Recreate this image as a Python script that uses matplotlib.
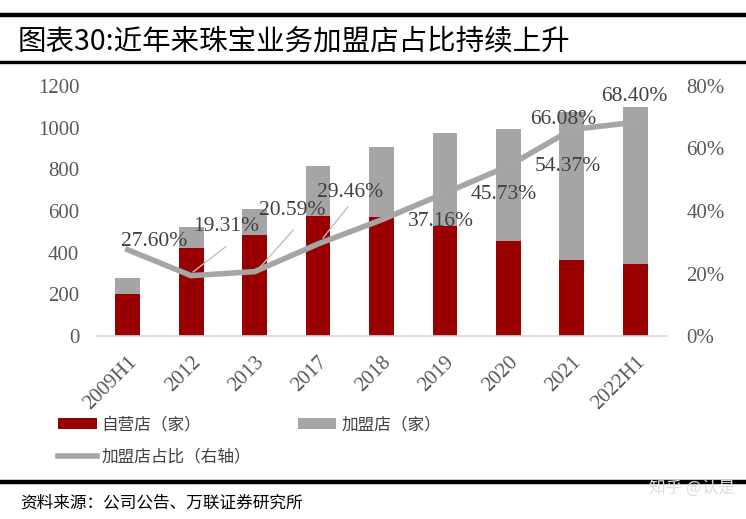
import matplotlib
matplotlib.use("Agg")
import matplotlib.pyplot as plt
from matplotlib.lines import Line2D
from matplotlib.patches import Patch

plt.rcParams['font.family'] = ['Noto Sans CJK SC', 'DejaVu Sans']

categories = ["2009H1", "2012", "2013", "2017", "2018", "2019", "2020", "2021", "2022H1"]
self_stores = [200, 424, 483, 577, 571, 528, 454, 365, 347]
franchise_stores = [77, 101, 125, 241, 338, 445, 541, 710, 752]
franchise_pct = [27.60, 19.31, 20.59, 29.46, 37.16, 45.73, 54.37, 66.08, 68.40]
pct_labels = ["27.60%", "19.31%", "20.59%", "29.46%", "37.16%", "45.73%", "54.37%", "66.08%", "68.40%"]
left_ticks = [0, 200, 400, 600, 800, 1000, 1200]
right_ticks = [0, 20, 40, 60, 80]

RED = "#990000"
GRAY = "#A5A5A5"
TXT = "#595959"
SERIF = ["Liberation Serif", "DejaVu Serif"]

fig = plt.figure(figsize=(7.46, 5.19), dpi=100)
ax = fig.add_axes([0.1287, 0.3526, 0.894 - 0.1287, 0.8343 - 0.3526])
ax2 = ax.twinx()

x = list(range(len(categories)))
ax.bar(x, self_stores, width=0.39, color=RED, zorder=2)
ax.bar(x, franchise_stores, width=0.39, bottom=self_stores, color=GRAY, zorder=2)
ax.set_ylim(0, 1200)
ax.set_xlim(-0.5, len(categories) - 0.5)
ax.set_yticks(left_ticks)
ax.set_yticklabels([str(v) for v in left_ticks], family=SERIF, fontsize=15, color=TXT)
ax.set_xticks(x)
ax.set_xticklabels(categories, family=SERIF, fontsize=15, color=TXT,
                   rotation=45, ha='right', va='top', rotation_mode='anchor')
ax.tick_params(axis='both', length=0, pad=12)
ax.tick_params(axis='x', pad=12)
for s in ["top", "left", "right"]:
    ax.spines[s].set_visible(False)
ax.spines["bottom"].set_color("#D9D9D9")
ax.spines["bottom"].set_linewidth(1.2)

ax2.plot(x, franchise_pct, color="#A6A6A6", lw=4, zorder=5, solid_joinstyle='miter')
ax2.set_ylim(0, 80)
ax2.set_yticks(right_ticks)
ax2.set_yticklabels([f"{v}%" for v in right_ticks], family=SERIF, fontsize=15, color=TXT)
ax2.tick_params(axis='y', length=0, pad=14)
for s in ["top", "left", "right", "bottom"]:
    ax2.spines[s].set_visible(False)

label_pos = [(0.41, 30.1), (1.55, 34.9), (2.60, 40.3), (3.50, 45.8), (4.94, 36.5),
             (5.93, 45.4), (6.93, 54.1), (6.87, 69.4), (7.98, 76.5)]
leaders = {1: ((1.03, 20.5), (1.54, 28.5)), 2: ((2.09, 22.1), (2.61, 33.9)),
           3: ((3.08, 31.4), (3.47, 41.3))}
for i, (lx, ly) in enumerate(label_pos):
    if i in leaders:
        (a, b), (c, d) = leaders[i]
        ax2.plot([a, c], [b, d], color="#BFBFBF", lw=1, zorder=6)
    ax2.text(lx, ly, pct_labels[i], family=SERIF, fontsize=15.5, color="#404040",
             ha='center', va='center', zorder=7)

# title & rules
fig.add_artist(Line2D([0, 1], [1 - 15 / 519, 1 - 15 / 519], color='black', lw=3.2))
fig.add_artist(Line2D([0, 1], [1 - 62 / 519, 1 - 62 / 519], color='black', lw=2.4))
fig.add_artist(Line2D([0, 1], [1 - 482 / 519, 1 - 482 / 519], color='black', lw=3.2))
fig.text(18 / 746, 1 - 42 / 519, "图表30:近年来珠宝业务加盟店占比持续上升", fontsize=20.5,
         color='black', ha='left', va='center')
fig.text(20 / 746, 1 - 503 / 519, "资料来源：公司公告、万联证券研究所", fontsize=12,
         color='black', ha='left', va='center', style='italic')
fig.text(735 / 746, 1 - 488 / 519, "知乎 @认是", fontsize=12, color='#DDDDDD',
         ha='right', va='center')

handles = [Patch(facecolor=RED, edgecolor='none'),
           Line2D([0], [0], color="#A6A6A6", lw=4),
           Patch(facecolor=GRAY, edgecolor='none')]
labels = ["自营店（家）", "加盟店占比（右轴）", "加盟店（家）"]
fig.legend(handles, labels, ncol=2, loc='upper left', bbox_to_anchor=(50 / 746, 1 - 408 / 519),
           frameon=False, fontsize=12, handlelength=2.3, handleheight=0.6, handletextpad=0.3,
           columnspacing=2.8, labelspacing=0.9, borderpad=0, labelcolor='#404040')

fig.savefig("out.png", dpi=100)
